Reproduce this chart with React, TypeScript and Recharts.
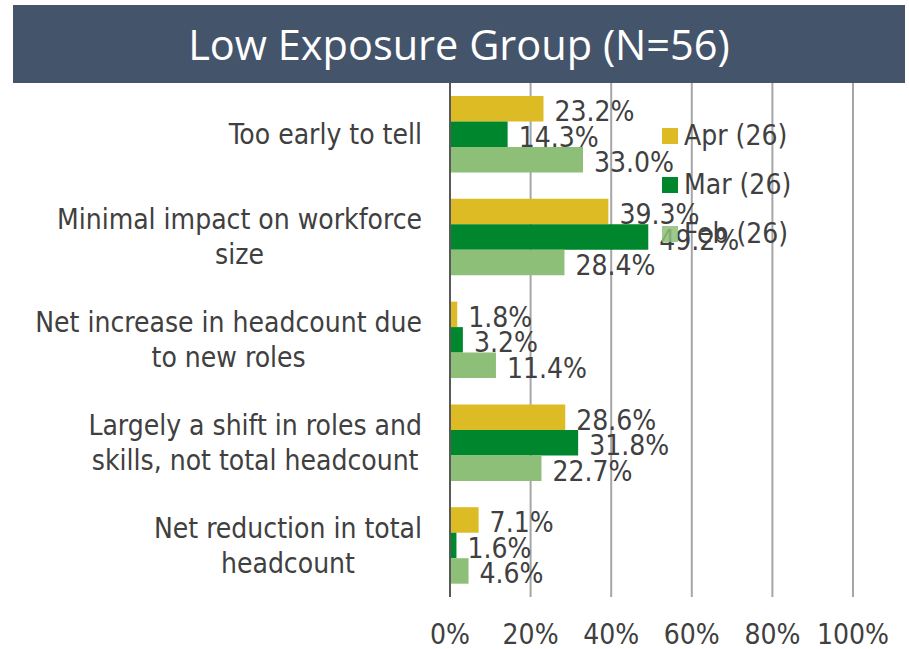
import React from "react";
import { BarChart, Bar, XAxis, YAxis, CartesianGrid, LabelList, Legend } from "recharts";

const categories = [
  "Too early to tell",
  "Minimal impact on workforce size",
  "Net increase in headcount due to new roles",
  "Largely a shift in roles and skills, not total headcount",
  "Net reduction in total headcount",
];
const categoryLines = [
  ["Too early to tell"],
  ["Minimal impact on workforce", "size"],
  ["Net increase in headcount due", "to new roles"],
  ["Largely a shift in roles and", "skills, not total headcount"],
  ["Net reduction in total", "headcount"],
];
const aprValues = [0.232, 0.393, 0.018, 0.286, 0.071];
const marValues = [0.143, 0.492, 0.032, 0.318, 0.016];
const febValues = [0.33, 0.284, 0.114, 0.227, 0.046];
const seriesNames = ["Apr (26)", "Mar (26)", "Feb (26)"];
const xTicks = [0, 0.2, 0.4, 0.6, 0.8, 1];
const titleText = "Low Exposure Group (N=56)";

const COLORS = ["#DDBB24", "#00872D", "#8DBF78"];
const TEXT = "#404040";
const FONT = "'DejaVu Sans Condensed', 'DejaVu Sans', sans-serif";
const FS = 28;

const data = categories.map((c, i) => ({
  category: c,
  apr: aprValues[i],
  mar: marValues[i],
  feb: febValues[i],
}));

let canvasCtx: CanvasRenderingContext2D | null = null;
function measure(text: string, size: number) {
  if (!canvasCtx) {
    const c = document.createElement("canvas");
    canvasCtx = c.getContext("2d");
  }
  if (!canvasCtx) return text.length * size * 0.5;
  canvasCtx.font = `${size}px 'DejaVu Sans Condensed', 'DejaVu Sans', sans-serif`;
  return canvasCtx.measureText(text).width;
}

const CategoryTick = (props: any) => {
  const { x, y, payload } = props;
  const idx = categories.indexOf(payload.value);
  const lines = categoryLines[idx] || [payload.value];
  const maxW = Math.max(...lines.map((l) => measure(l, FS)));
  const cx = x - maxW / 2;
  const lh = 35;
  const startY = y - ((lines.length - 1) * lh) / 2;
  return (
    <g>
      {lines.map((l, i) => (
        <text
          key={i}
          x={cx}
          y={startY + i * lh}
          textAnchor="middle"
          dominantBaseline="central"
          fill={TEXT}
          fontSize={FS}
          fontFamily={FONT}
        >
          {l}
        </text>
      ))}
    </g>
  );
};

const XTick = (props: any) => {
  const { x, y, payload } = props;
  return (
    <text x={x} y={y - 1} textAnchor="middle" dominantBaseline="central" fill={TEXT} fontSize={FS} fontFamily={FONT}>
      {`${Math.round(payload.value * 100)}%`}
    </text>
  );
};

const ValueLabel = (props: any) => {
  const { x, y, width, height, value } = props;
  return (
    <text
      x={x + width + 11}
      y={y + height / 2 + 3}
      dominantBaseline="central"
      fill={TEXT}
      fontSize={FS}
      fontFamily={FONT}
    >
      {`${(value * 100).toFixed(1)}%`}
    </text>
  );
};

const LegendContent = () => (
  <div style={{ display: "flex", flexDirection: "column", gap: 0 }}>
    {seriesNames.map((n, i) => (
      <div key={n} style={{ display: "flex", alignItems: "center", height: 49 }}>
        <div
          style={{
            width: 16,
            height: 16,
            background: COLORS[i],
            opacity: i === 2 ? 0.85 : 1,
            marginRight: 6,
          }}
        />
        <span style={{ fontFamily: FONT, fontSize: FS, color: TEXT, lineHeight: "30px" }}>{n}</span>
      </div>
    ))}
  </div>
);

export default function App() {
  return (
    <div style={{ position: "fixed", left: 0, top: 0, width: 909, height: 649, background: "#fff" }}>
      <div
        style={{
          position: "absolute",
          left: 13,
          top: 5,
          width: 892,
          height: 78,
          background: "#44546A",
          color: "#fff",
          display: "flex",
          alignItems: "center",
          justifyContent: "center",
          fontFamily: "'Open Sans', sans-serif",
          fontSize: 41.5,
          zIndex: 2,
        }}
      >
        {titleText}
      </div>
      <div style={{ position: "absolute", left: 0, top: 0 }}>
        <BarChart
          width={909}
          height={649}
          data={data}
          layout="vertical"
          margin={{ top: 83, right: 56, bottom: 0, left: 0 }}
          barGap={0}
          barSize={25.5}
        >
          <CartesianGrid horizontal={false} vertical={true} stroke="#A6A6A6" strokeWidth={2} />
          <XAxis
            type="number"
            domain={[0, 1]}
            ticks={xTicks}
            axisLine={false}
            tickLine={false}
            tickSize={0}
            tickMargin={38}
            height={52}
            tick={<XTick />}
            interval={0}
          />
          <YAxis
            type="category"
            dataKey="category"
            width={450}
            axisLine={{ stroke: "#595959", strokeWidth: 2 }}
            tickLine={false}
            tickSize={0}
            tickMargin={28}
            tick={<CategoryTick />}
            interval={0}
          />
          <Legend
            layout="vertical"
            verticalAlign="middle"
            align="center"
            content={<LegendContent />}
            wrapperStyle={{ position: "absolute", left: 662, top: 111, width: 200 }}
          />
          <Bar dataKey="apr" name={seriesNames[0]} fill={COLORS[0]} isAnimationActive={false}>
            <LabelList dataKey="apr" content={<ValueLabel />} />
          </Bar>
          <Bar dataKey="mar" name={seriesNames[1]} fill={COLORS[1]} isAnimationActive={false}>
            <LabelList dataKey="mar" content={<ValueLabel />} />
          </Bar>
          <Bar dataKey="feb" name={seriesNames[2]} fill={COLORS[2]} isAnimationActive={false}>
            <LabelList dataKey="feb" content={<ValueLabel />} />
          </Bar>
        </BarChart>
      </div>
    </div>
  );
}
